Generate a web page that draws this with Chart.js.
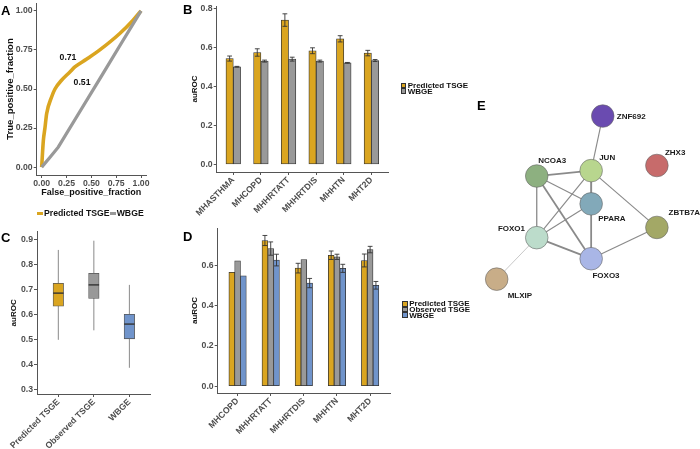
<!DOCTYPE html>
<html lang="en">
<head>
<meta charset="UTF-8">
<title>TSGE auROC figure</title>
<style>
  body { margin: 0; background: #fff; font-family: 'Liberation Sans', Arial, sans-serif; }
  #fig { position: relative; width: 700px; height: 449px; overflow: hidden; }
  #fig canvas { position: absolute; }
  .tag { position: absolute; font-size: 13px; line-height: 13px; font-weight: bold; color: #000; }
  .legend { position: absolute; font-size: 8px; font-weight: bold; color: #111; z-index: 2; }
  .legend .row { display: flex; align-items: center; height: 5.7px; white-space: nowrap; }
  .legend .box { width: 5.7px; height: 5.7px; border: 0.6px solid #333; box-sizing: border-box; margin-right: 1.5px; }
  .legA { position: absolute; left: 37px; top: 208px; font-size: 8.7px; font-weight: bold; color: #111; white-space: nowrap; display: flex; align-items: center; height: 10px; }
  .legA .swatch { display: inline-block; width: 6px; height: 3px; margin-right: 1px; }
</style>
</head>
<body>
<div id="fig">
  <canvas id="chartA" width="160" height="205" style="left:0;top:0"></canvas>
  <canvas id="chartB" width="225" height="225" style="left:170px;top:0"></canvas>
  <canvas id="chartC" width="160" height="224" style="left:0;top:225px"></canvas>
  <canvas id="chartD" width="225" height="224" style="left:170px;top:225px"></canvas>
  <canvas id="chartE" width="300" height="449" style="left:400px;top:0"></canvas>
  <div class="tag" style="left:1px;top:3.5px">A</div>
  <div class="tag" style="left:183px;top:2.5px">B</div>
  <div class="tag" style="left:1px;top:231px">C</div>
  <div class="tag" style="left:183px;top:229.5px">D</div>
  <div class="tag" style="left:477px;top:98.5px">E</div>
  <div class="legA" id="legA"></div>
  <div class="legend" id="legB" style="left:400.5px;top:82.5px"></div>
  <div class="legend" id="legD" style="left:402px;top:301px"></div>
</div>
<script src="https://cdn.jsdelivr.net/npm/chart.js"></script>
<script>
// ---- data ----
// A: ROC curves
const rocTicks = [0, 0.25, 0.5, 0.75, 1];
const rocPredFpr = [0, 0.017, 0.033, 0.05, 0.1, 0.134, 0.2, 0.284, 0.334, 0.45, 0.585, 0.786, 0.92, 1];
const rocPredTpr = [0, 0.171, 0.25, 0.342, 0.449, 0.5, 0.556, 0.609, 0.641, 0.69, 0.75, 0.855, 0.94, 1];
const rocWbgeFpr = [0, 0.08, 0.167, 0.4, 0.6, 0.8, 1];
const rocWbgeTpr = [0, 0.06, 0.128, 0.372, 0.581, 0.791, 1];
const aucLabels = ['0.71', '0.51'];
const aucAtFpr = [0.265, 0.406];
const aucAtTpr = [0.703, 0.543];

// B: auROC per disease
const seriesB = ['Predicted TSGE', 'WBGE'];
const diseasesB = ['MHASTHMA', 'MHCOPD', 'MHHRTATT', 'MHHRTDIS', 'MHHTN', 'MHT2D'];
const predB = [0.542, 0.573, 0.739, 0.582, 0.643, 0.570];
const predErrB = [0.013, 0.019, 0.032, 0.015, 0.016, 0.014];
const wbgeB = [0.500, 0.529, 0.539, 0.529, 0.520, 0.532];
const wbgeErrB = [0.002, 0.005, 0.010, 0.005, 0.002, 0.005];
const ticksB = [0, 0.2, 0.4, 0.6, 0.8];

// C: box plots
const groupsC = ['Predicted TSGE', 'Observed TSGE', 'WBGE'];
const minC = [0.500, 0.538, 0.388];
const q1C = [0.635, 0.666, 0.504];
const medC = [0.687, 0.720, 0.563];
const q3C = [0.726, 0.766, 0.602];
const maxC = [0.860, 0.897, 0.720];
const ticksC = [0.3, 0.4, 0.5, 0.6, 0.7, 0.8, 0.9];

// D: auROC per disease, three models
const seriesD = ['Predicted TSGE', 'Observed TSGE', 'WBGE'];
const diseasesD = ['MHCOPD', 'MHHRTATT', 'MHHRTDIS', 'MHHTN', 'MHT2D'];
const predD = [0.564, 0.722, 0.585, 0.649, 0.623];
const predErrD = [0, 0.025, 0.024, 0.021, 0.032];
const obsD = [0.621, 0.682, 0.628, 0.641, 0.677];
const obsErrD = [0, 0.033, 0, 0.013, 0.016];
const wbgeD = [0.547, 0.625, 0.511, 0.584, 0.500];
const wbgeErrD = [0, 0.029, 0.023, 0.020, 0.019];
const ticksD = [0, 0.2, 0.4, 0.6];

// E: gene network
const geneNames = ['ZNF692', 'ZHX3', 'JUN', 'NCOA3', 'PPARA', 'ZBTB7A', 'FOXO1', 'FOXO3', 'MLXIP'];
const geneX = [6.91, 8.87, 6.49, 4.52, 6.49, 8.87, 4.52, 6.49, 3.07];
const geneY = [11.30, 9.56, 9.38, 9.19, 8.21, 7.38, 7.02, 6.28, 5.56];
const edgeFrom = ['ZNF692', 'NCOA3', 'NCOA3', 'NCOA3', 'NCOA3', 'JUN', 'JUN', 'JUN', 'PPARA', 'PPARA', 'FOXO1', 'FOXO3', 'FOXO1'];
const edgeTo = ['JUN', 'JUN', 'PPARA', 'FOXO1', 'FOXO3', 'PPARA', 'FOXO1', 'ZBTB7A', 'FOXO1', 'FOXO3', 'FOXO3', 'ZBTB7A', 'MLXIP'];
const edgeScore = [0.4, 0.8, 0.4, 0.5, 0.8, 0.9, 0.4, 0.4, 0.4, 0.8, 0.9, 0.4, 0.15];

// ---- style ----
const FONT = "'Liberation Sans', Arial, sans-serif";
const ORANGE = '#daa520', GREY = '#999999', BLUE = '#7094cb';
const AXIS = '#555', TICK = '#4d4d4d';
const geneColors = ['#6a4bb0', '#c76b6b', '#b8d68e', '#8db080', '#82a9b9', '#a3a866', '#bcdccb', '#a9b6e6', '#c8ad88'];
// label offset from node centre in px: dx, dy, align
const geneLabelPos = {
  ZNF692: [14, 1, 'left'], ZHX3: [8, -13, 'left'], JUN: [8, -12.7, 'left'],
  NCOA3: [1.5, -15.3, 'left'], PPARA: [7, 15.3, 'left'], ZBTB7A: [11.7, -14.7, 'left'],
  FOXO1: [-11.7, -9.3, 'right'], FOXO3: [1.3, 17.3, 'left'], MLXIP: [11, 16.7, 'left']
};

Chart.defaults.font.family = FONT;
Chart.defaults.font.weight = 'bold';
Chart.defaults.animation = false;
Chart.defaults.responsive = false;
Chart.defaults.plugins.legend.display = false;
Chart.defaults.plugins.tooltip.enabled = false;

function axisGrid() {
  return { display: true, drawOnChartArea: false, offset: false, tickLength: 3, color: AXIS, lineWidth: 1 };
}

function valAxis(min, max, vals, digits, w, titlePad, title) {
  return {
    type: 'linear', min: min, max: max,
    afterBuildTicks: s => { s.ticks = vals.map(v => ({ value: v })); },
    afterFit: s => { s.width = w; s.paddingTop = 0; s.paddingBottom = 0; },
    grid: axisGrid(),
    border: { display: true, color: AXIS, width: 1 },
    ticks: { padding: 1, color: TICK, font: { size: 8.7, weight: 'bold' }, callback: v => v.toFixed(digits) },
    title: { display: true, text: title, color: '#111', font: { size: 8, weight: 'bold' }, padding: { top: titlePad, bottom: 0 } }
  };
}

function catAxis(labels, h) {
  return {
    type: 'linear', min: 0.4, max: labels.length + 0.6, offset: false,
    afterBuildTicks: s => { s.ticks = labels.map((_, i) => ({ value: i + 1 })); },
    afterFit: s => { s.height = h; s.paddingLeft = 0; s.paddingRight = 0; },
    grid: axisGrid(),
    border: { display: true, color: AXIS, width: 1 },
    ticks: { autoSkip: false, minRotation: 45, maxRotation: 45, padding: 0, color: TICK,
      font: { size: 8.7, weight: 'bold' }, callback: v => labels[Math.round(v) - 1] }
  };
}

const errorBars = {
  id: 'errorBars',
  afterDatasetsDraw(chart) {
    const ctx = chart.ctx, y = chart.scales.y;
    chart.data.datasets.forEach((ds, di) => {
      if (!ds.errors) return;
      chart.getDatasetMeta(di).data.forEach((bar, i) => {
        const e = ds.errors[i];
        if (!e) return;
        const v = ds.data[i].y;
        const top = y.getPixelForValue(v + e), bot = y.getPixelForValue(v - e);
        const x = bar.x, cap = 2.4;
        ctx.save();
        ctx.strokeStyle = '#333';
        ctx.lineWidth = 0.9;
        ctx.beginPath();
        ctx.moveTo(x, top); ctx.lineTo(x, bot);
        ctx.moveTo(x - cap, top); ctx.lineTo(x + cap, top);
        ctx.moveTo(x - cap, bot); ctx.lineTo(x + cap, bot);
        ctx.stroke();
        ctx.restore();
      });
    });
  }
};

// ---- A: ROC ----
const aucText = {
  id: 'aucText',
  afterDatasetsDraw(chart) {
    const { ctx, scales: { x, y } } = chart;
    ctx.save();
    ctx.font = 'bold 8.7px ' + FONT;
    ctx.fillStyle = '#111';
    ctx.textAlign = 'center';
    ctx.textBaseline = 'middle';
    aucLabels.forEach((t, i) => ctx.fillText(t, x.getPixelForValue(aucAtFpr[i]), y.getPixelForValue(aucAtTpr[i])));
    ctx.restore();
  }
};

new Chart(document.getElementById('chartA'), {
  type: 'scatter',
  data: {
    datasets: [
      { label: 'WBGE', data: rocWbgeFpr.map((x, i) => ({ x: x, y: rocWbgeTpr[i] })), showLine: true,
        borderColor: GREY, borderWidth: 3.3, pointRadius: 0, tension: 0 },
      { label: 'Predicted TSGE', data: rocPredFpr.map((x, i) => ({ x: x, y: rocPredTpr[i] })), showLine: true,
        borderColor: ORANGE, borderWidth: 3.6, pointRadius: 0, cubicInterpolationMode: 'monotone' }
    ]
  },
  options: {
    layout: { padding: { left: 0, top: 3, right: 14, bottom: 0 } },
    scales: {
      x: {
        type: 'linear', min: -0.05, max: 1.05,
        afterBuildTicks: s => { s.ticks = rocTicks.map(v => ({ value: v })); },
        afterFit: s => { s.height = 30; s.paddingLeft = 0; s.paddingRight = 0; },
        grid: axisGrid(),
        border: { display: true, color: AXIS, width: 1 },
        ticks: { padding: 0, color: TICK, font: { size: 8.7, weight: 'bold' }, callback: v => v.toFixed(2) },
        title: { display: true, text: 'False_positive_fraction', color: '#111', font: { size: 9, weight: 'bold' }, padding: { top: 0, bottom: 6.9 } }
      },
      y: Object.assign(valAxis(-0.05, 1.05, rocTicks, 2, 36.7, 4.3, 'True_positive_fraction'), {
        title: { display: true, text: 'True_positive_fraction', color: '#111', font: { size: 9.5, weight: 'bold' }, padding: { top: 4.3, bottom: 0 } }
      })
    }
  },
  plugins: [aucText]
});

const legA = document.getElementById('legA');
legA.innerHTML = '<span class="swatch" style="background:' + ORANGE + '"></span>Predicted TSGE' +
  '<span class="swatch" style="background:' + GREY + '"></span>WBGE';

// ---- B: bars ----
new Chart(document.getElementById('chartB'), {
  type: 'bar',
  data: {
    datasets: [
      { label: seriesB[0], data: diseasesB.map((_, i) => ({ x: i + 1, y: predB[i] })), errors: predErrB, backgroundColor: ORANGE },
      { label: seriesB[1], data: diseasesB.map((_, i) => ({ x: i + 1, y: wbgeB[i] })), errors: wbgeErrB, backgroundColor: GREY }
    ]
  },
  options: {
    layout: { padding: { left: 0, top: 6, right: 7, bottom: 0 } },
    datasets: { bar: { barThickness: 7.3, borderColor: '#333', borderWidth: 0.8, borderSkipped: false } },
    scales: {
      x: catAxis(diseasesB, 53),
      y: valAxis(-0.0386, 0.811, ticksB, 1, 46.7, 20.2, 'auROC')
    }
  },
  plugins: [errorBars]
});

function boxLegend(el, names, colors) {
  el.innerHTML = names.map((n, i) =>
    '<div class="row"><span class="box" style="background:' + colors[i] + '"></span>' + n + '</div>').join('');
}
boxLegend(document.getElementById('legB'), seriesB, [ORANGE, GREY]);

// ---- C: box plots ----
const boxParts = {
  id: 'boxParts',
  beforeDatasetsDraw(chart) {
    const ctx = chart.ctx, y = chart.scales.y;
    chart.getDatasetMeta(0).data.forEach((bar, i) => {
      ctx.save();
      ctx.strokeStyle = '#8a8a8a';
      ctx.lineWidth = 1;
      ctx.beginPath();
      ctx.moveTo(bar.x, y.getPixelForValue(maxC[i]));
      ctx.lineTo(bar.x, y.getPixelForValue(minC[i]));
      ctx.stroke();
      ctx.restore();
    });
  },
  afterDatasetsDraw(chart) {
    const ctx = chart.ctx, y = chart.scales.y;
    chart.getDatasetMeta(0).data.forEach((bar, i) => {
      const py = y.getPixelForValue(medC[i]);
      ctx.save();
      ctx.strokeStyle = '#333';
      ctx.lineWidth = 1.4;
      ctx.beginPath();
      ctx.moveTo(bar.x - bar.width / 2, py);
      ctx.lineTo(bar.x + bar.width / 2, py);
      ctx.stroke();
      ctx.restore();
    });
  }
};

new Chart(document.getElementById('chartC'), {
  type: 'bar',
  data: {
    datasets: [
      { data: groupsC.map((_, i) => ({ x: i + 1, y: [q1C[i], q3C[i]] })),
        backgroundColor: [ORANGE, GREY, BLUE], borderColor: '#555', borderWidth: 0.8, borderSkipped: false, barThickness: 10.5 }
    ]
  },
  options: {
    layout: { padding: { left: 0, top: 6.7, right: 9.3, bottom: 0 } },
    scales: {
      x: catAxis(groupsC, 55),
      y: valAxis(0.283, 0.933, ticksC, 1, 37, 8.5, 'auROC')
    }
  },
  plugins: [boxParts]
});

// ---- D: bars with three models ----
new Chart(document.getElementById('chartD'), {
  type: 'bar',
  data: {
    datasets: [
      { label: seriesD[0], data: diseasesD.map((_, i) => ({ x: i + 1, y: predD[i] })), errors: predErrD, backgroundColor: ORANGE },
      { label: seriesD[1], data: diseasesD.map((_, i) => ({ x: i + 1, y: obsD[i] })), errors: obsErrD, backgroundColor: GREY },
      { label: seriesD[2], data: diseasesD.map((_, i) => ({ x: i + 1, y: wbgeD[i] })), errors: wbgeErrD, backgroundColor: BLUE }
    ]
  },
  options: {
    layout: { padding: { left: 0, top: 3, right: 5, bottom: 0 } },
    datasets: { bar: { barThickness: 5.8, borderColor: '#333', borderWidth: 0.8, borderSkipped: false } },
    scales: {
      x: catAxis(diseasesD, 56),
      y: valAxis(-0.034, 0.784, ticksD, 1, 47.7, 20.2, 'auROC')
    }
  },
  plugins: [errorBars]
});
boxLegend(document.getElementById('legD'), seriesD, [ORANGE, GREY, BLUE]);

// ---- E: network ----
const geneAt = name => {
  const i = geneNames.indexOf(name);
  return { x: geneX[i], y: geneY[i] };
};

const geneLabels = {
  id: 'geneLabels',
  afterDatasetsDraw(chart) {
    const ctx = chart.ctx, x = chart.scales.x, y = chart.scales.y;
    ctx.save();
    ctx.font = 'bold 8px ' + FONT;
    ctx.fillStyle = '#1a1a1a';
    ctx.textBaseline = 'middle';
    geneNames.forEach((g, i) => {
      const p = geneLabelPos[g];
      ctx.textAlign = p[2];
      ctx.fillText(g, x.getPixelForValue(geneX[i]) + p[0], y.getPixelForValue(geneY[i]) + p[1]);
    });
    ctx.restore();
  }
};

const edgeSets = edgeFrom.map((a, i) => ({
  data: [geneAt(a), geneAt(edgeTo[i])],
  showLine: true, pointRadius: 0,
  borderColor: edgeScore[i] < 0.3 ? '#b5b5b5' : '#8a8a8a',
  borderWidth: 0.5 + 1.6 * edgeScore[i]
}));

new Chart(document.getElementById('chartE'), {
  type: 'scatter',
  data: {
    datasets: [
      { data: geneNames.map((_, i) => ({ x: geneX[i], y: geneY[i] })), pointRadius: 11.3,
        pointBackgroundColor: geneColors, pointBorderColor: '#666', pointBorderWidth: 0.6 }
    ].concat(edgeSets)
  },
  options: {
    layout: { padding: 0 },
    scales: {
      x: { type: 'linear', display: false, min: 0, max: 10 },
      y: { type: 'linear', display: false, min: 0, max: 449 / 30 }
    }
  },
  plugins: [geneLabels]
});
</script>
</body>
</html>
